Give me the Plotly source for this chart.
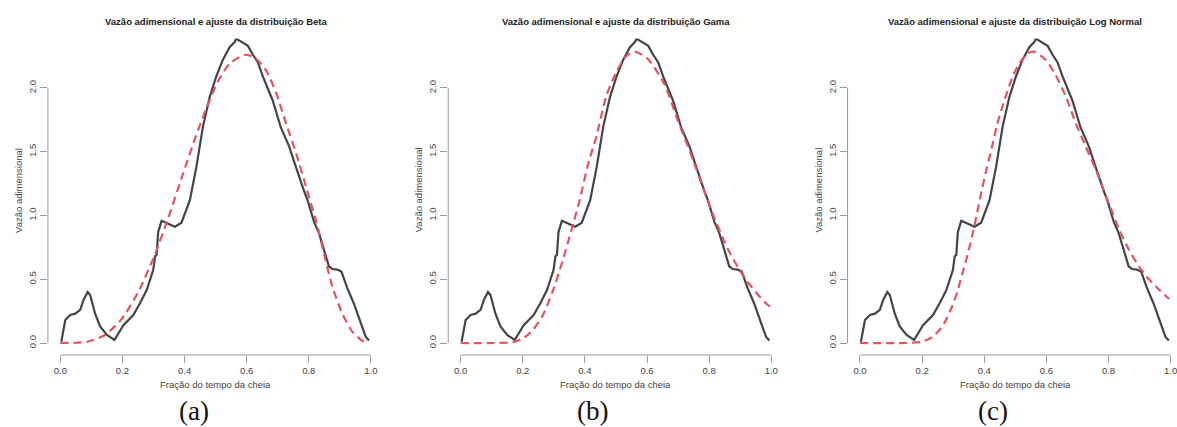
import plotly.graph_objects as go

# ---------------- data ----------------
obs_x = [0.003, 0.011, 0.016, 0.032, 0.048, 0.064, 0.075, 0.088, 0.096, 0.112, 0.128, 0.15, 0.174,
         0.203, 0.235, 0.256, 0.278, 0.299, 0.305, 0.31, 0.315, 0.326, 0.342, 0.369, 0.39, 0.406,
         0.417, 0.438, 0.459, 0.481, 0.502, 0.523, 0.545, 0.561, 0.565, 0.571, 0.593, 0.604, 0.62,
         0.636, 0.652, 0.668, 0.684, 0.71, 0.737, 0.753, 0.769, 0.785, 0.796, 0.817, 0.833, 0.849,
         0.865, 0.876, 0.892, 0.905, 0.924, 0.945, 0.967, 0.983, 0.994]
obs_y = [0.01, 0.13, 0.18, 0.22, 0.23, 0.26, 0.34, 0.40, 0.376, 0.23, 0.13, 0.063, 0.024,
         0.14, 0.22, 0.31, 0.415, 0.572, 0.68, 0.69, 0.87, 0.958, 0.943, 0.912, 0.943, 1.04,
         1.12, 1.38, 1.695, 1.93, 2.09, 2.22, 2.32, 2.36, 2.38, 2.38, 2.35, 2.33, 2.26,
         2.20, 2.09, 2.0, 1.90, 1.69, 1.54, 1.42, 1.30, 1.19, 1.12, 0.95, 0.86, 0.73,
         0.60, 0.58, 0.575, 0.56, 0.43, 0.31, 0.167, 0.05, 0.02]

beta_x = [0.0, 0.05, 0.09, 0.144, 0.198, 0.251, 0.304, 0.347, 0.39, 0.433, 0.47, 0.507, 0.545,
          0.593, 0.625, 0.662, 0.695, 0.727, 0.759, 0.791, 0.823, 0.849, 0.876, 0.908, 0.94,
          0.972, 0.99]
beta_y = [0.0, 0.002, 0.012, 0.063, 0.19, 0.40, 0.69, 0.977, 1.29, 1.60, 1.84, 2.05, 2.19,
          2.26, 2.24, 2.14, 1.96, 1.72, 1.49, 1.225, 0.96, 0.70, 0.44, 0.23, 0.089,
          0.018, 0.0]

gama_x = [0.0, 0.1, 0.165, 0.2, 0.232, 0.265, 0.297, 0.329, 0.356, 0.383, 0.41, 0.437, 0.468,
          0.50, 0.533, 0.56, 0.602, 0.656, 0.70, 0.74, 0.78, 0.817, 0.85, 0.87, 0.90, 0.924,
          0.96, 0.988, 1.0]
gama_y = [0.0, 0.0, 0.005, 0.035, 0.10, 0.22, 0.41, 0.65, 0.88, 1.12, 1.40, 1.62, 1.93,
          2.12, 2.25, 2.285, 2.23, 2.03, 1.74, 1.49, 1.22, 0.98, 0.79, 0.69, 0.565, 0.48,
          0.37, 0.30, 0.28]

lnorm_x = [0.0, 0.15, 0.2, 0.235, 0.265, 0.28, 0.297, 0.313, 0.329, 0.345, 0.36, 0.377, 0.393,
           0.409, 0.426, 0.441, 0.458, 0.474, 0.49, 0.512, 0.539, 0.56, 0.598, 0.63, 0.663,
           0.695, 0.727, 0.759, 0.792, 0.813, 0.834, 0.866, 0.898, 0.93, 0.962, 0.995]
lnorm_y = [0.0, 0.0, 0.01, 0.05, 0.13, 0.196, 0.29, 0.40, 0.54, 0.68, 0.83, 1.02, 1.21,
           1.38, 1.55, 1.71, 1.85, 1.97, 2.08, 2.19, 2.27, 2.285, 2.22, 2.10, 1.93,
           1.72, 1.54, 1.36, 1.15, 1.02, 0.89, 0.73, 0.60, 0.50, 0.42, 0.345]

titles = ["Vazão adimensional e ajuste da distribuição Beta",
          "Vazão adimensional e ajuste da distribuição Gama",
          "Vazão adimensional e ajuste da distribuição Log Normal"]
panel_labels = ["(a)", "(b)", "(c)"]
x_title = "Fração do tempo da cheia"
y_title = "Vazão adimensional"
x_ticks = [0.0, 0.2, 0.4, 0.6, 0.8, 1.0]
y_ticks = [0.0, 0.5, 1.0, 1.5, 2.0]

fits = [(beta_x, beta_y), (gama_x, gama_y), (lnorm_x, lnorm_y)]

# ---------------- layout helpers ----------------
W, H = 1177, 427
def fx(px):
    return px / W
def fy(py):
    return 1 - py / H

panel_dom = [(48, 384, 1.04), (449, 785, 1.04), (849, 1177, 1.014)]
label_cx = [194, 594, 995]
ydom = [fy(355), fy(27)]

BLACK = "#454545"
RED = "#E0555F"
AXIS = "#9a9a9a"
TXT = "#444444"
FONT = "Liberation Sans, Arial, sans-serif"

fig = go.Figure()
annotations = []
shapes = []

for i in range(3):
    n = "" if i == 0 else str(i + 1)
    xa, ya = "x" + n, "y" + n
    fxs, fys = fits[i]
    fig.add_trace(go.Scatter(x=obs_x, y=obs_y, mode="lines", xaxis=xa, yaxis=ya,
                             line=dict(color=BLACK, width=2.2), showlegend=False,
                             hoverinfo="skip"))
    fig.add_trace(go.Scatter(x=fxs, y=fys, mode="lines", xaxis=xa, yaxis=ya,
                             line=dict(color=RED, width=2.2, dash="8px,5px", shape="spline",
                                       smoothing=0.6),
                             showlegend=False, hoverinfo="skip"))
    d0, d1, xmax = panel_dom[i]
    common = dict(showgrid=False, zeroline=False, showline=False, ticks="outside",
                  ticklen=7, tickwidth=1, tickcolor=AXIS,
                  tickfont=dict(family=FONT, size=9.5, color=TXT))
    fig.update_layout(**{
        "xaxis" + n: dict(domain=[fx(d0), fx(d1)], range=[-0.04, xmax], anchor=ya,
                          tickvals=x_ticks, ticktext=["%.1f" % v for v in x_ticks],
                          ticklabeloverflow="allow", **common),
        "yaxis" + n: dict(domain=ydom, range=[-0.094, 2.478], anchor=xa,
                          tickvals=y_ticks, ticktext=["%.1f" % v for v in y_ticks],
                          tickangle=-90, **common),
    })
    # R-style axis lines spanning tick range only
    shapes.append(dict(type="line", xref=xa, yref=ya + " domain", x0=x_ticks[0], x1=x_ticks[-1],
                       y0=0, y1=0, line=dict(color=AXIS, width=1)))
    shapes.append(dict(type="line", xref=xa + " domain", yref=ya, x0=0, x1=0,
                       y0=y_ticks[0], y1=y_ticks[-1], line=dict(color=AXIS, width=1)))
    # titles
    annotations.append(dict(text="<b>" + titles[i] + "</b>", xref=xa, x=0.5, yref="paper",
                            y=fy(21), xanchor="center", yanchor="middle", showarrow=False,
                            font=dict(family=FONT, size=9.5, color="#222222")))
    annotations.append(dict(text=x_title, xref=xa, x=0.5, yref="paper", y=fy(384),
                            xanchor="center", yanchor="middle", showarrow=False,
                            font=dict(family=FONT, size=9.5, color=TXT)))
    annotations.append(dict(text=y_title, xref="paper", x=fx(d0 + 1 - 31), yref="paper",
                            y=fy(190), xanchor="center", yanchor="middle", textangle=-90,
                            showarrow=False, font=dict(family=FONT, size=9.5, color=TXT)))
    annotations.append(dict(text=panel_labels[i], xref="paper", x=fx(label_cx[i]), yref="paper",
                            y=fy(411), xanchor="center", yanchor="middle", showarrow=False,
                            font=dict(family="Liberation Serif, Times New Roman, serif",
                                      size=27, color="#111111")))

fig.update_layout(width=W, height=H, margin=dict(l=0, r=0, t=0, b=0),
                  paper_bgcolor="white", plot_bgcolor="white",
                  annotations=annotations, shapes=shapes)

fig.write_html("out.html", config={"displayModeBar": False},
               post_script="document.body.style.margin='0';document.body.style.overflow='hidden';")
